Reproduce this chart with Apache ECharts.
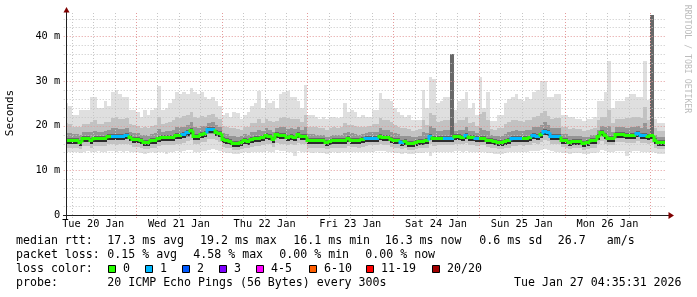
<!DOCTYPE html>
<html><head><meta charset="utf-8">
<script src="https://cdn.jsdelivr.net/npm/echarts@6/dist/echarts.min.js"></script>
<style>html,body{margin:0;padding:0;background:#fff}#c{width:697px;height:297px}</style>
</head><body><div id="c"></div>
<script>
// time in hours since Tue 20 Jan 00:00; one bucket per hour, first bucket at 04:00
const startHour = 4;
const viewStart = 4.592;   // Tue 20 Jan 04:35:31
const viewEnd = 172.592;   // Tue 27 Jan 04:35:31
const yMax = 45.24;

const dayLabels = ['Tue 20 Jan','Wed 21 Jan','Thu 22 Jan','Fri 23 Jan','Sat 24 Jan','Sun 25 Jan','Mon 26 Jan'];
const dayLabelHours = [12,36,60,84,108,132,156];
const yTicks = [0,10,20,30,40];
const yTickLabels = ['0','10 m','20 m','30 m','40 m'];
const yMajorGrid = [10,20,30,40];
const yMinorGrid = [2,4,6,8,12,14,16,18,22,24,26,28,32,34,36,38,42,44];
const xMajorGrid = [24,48,72,96,120,144,168];
const xMinorGrid = [6,12,18,30,36,42,54,60,66,78,84,90,102,108,114,126,132,138,150,156,162];

const lossLabels = ['0','1','2','3','4-5','6-10','11-19','20/20'];
const lossColors = ['#26ff00','#00b8ff','#0059ff','#7e00ff','#ff00ff','#ff5e00','#ff0000','#a00000'];

// ms, hourly
const rttMax = [25,24.5,22.5,22.5,23.5,23.5,23.5,26.5,26.5,24,
24,25.5,24.5,27.5,28,27,26.5,26.5,23.5,23.5,
23,22,23.5,22.5,23.5,24,29,23.5,24,25,
26,27.5,27,27.5,27,28.5,27.5,27,27.5,26.5,
26,26.5,25.5,24.5,22.5,22.8,22,23,22.8,21.5,
22.5,23,24.5,25,27.7,24,26,25,25.5,24,
27,27.5,27.7,26.5,26.5,25.5,24,29.2,22.5,22.5,
22,21.5,22,21.5,22,22,21.8,22,25,23,
23.5,23,22,22.3,22,22,23.5,23.5,27.3,26,
26,25.5,24,23,22.5,22,22.5,21.3,21.3,21.3,
28,24,31,30.5,25,25.5,26.5,26.5,36,23.5,
25.5,26,27.5,24,25,22.5,31,24,27.5,21,
21,22.5,22.5,25,26,26.5,27,26,25.5,26.5,
26,27.5,28,29.9,29.9,26.5,26.5,27,27.2,22.5,
22.5,22,22,21.5,21.5,21,21.5,21.5,22,25.5,
25.5,27.5,34.4,24,25.5,25.5,25.5,26.5,27,27,
26.5,26.5,34.4,25.8,44.8,21.5,20.5,20.5];
const rttHi2 = [20.5,20.3,19.7,19.7,19.7,20.3,20.3,20.9,21.2,20.4,
20.4,20.9,20.9,21.8,21.9,21.6,21.5,21.7,20.4,20.2,
20.0,19.5,19.7,19.4,20.0,20.2,21.9,20.4,20.6,20.9,
21.2,22.0,21.8,22.1,22.3,23.1,21.9,21.8,22.2,22.0,
22.4,22.7,21.9,21.4,19.9,19.8,19.4,19.4,19.3,19.1,
19.7,19.7,20.5,20.7,21.6,20.6,21.5,21.0,20.8,21.1,
21.8,22.0,21.8,21.6,21.4,21.6,20.9,22.3,19.7,19.7,
19.6,19.4,19.5,19.1,19.4,19.6,19.5,19.6,20.5,20.2,
20.1,19.9,19.6,19.8,19.8,19.9,20.4,20.4,21.8,21.3,
21.2,20.8,20.2,19.8,19.4,19.4,19.3,18.9,19.0,19.2,
21.2,20.2,22.9,22.5,20.8,21.0,21.3,21.3,36,20.6,
21.2,21.3,22.0,20.6,20.9,20.0,22.6,23.0,21.3,19.3,
19.1,19.4,19.4,20.3,20.8,21.2,21.3,21.1,20.9,21.3,
21.2,22.0,22.1,22.9,23.4,22.1,21.5,21.7,21.7,19.8,
19.7,19.3,19.4,19.3,19.3,18.8,19.1,19.3,19.5,21.2,
21.9,22.0,23.6,20.5,21.6,21.6,21.5,21.7,21.8,21.9,
22.0,21.7,24.1,21.3,44.8,19.4,18.8,18.8];
const rttHi3 = [18.4,18.3,18.1,18.1,17.9,18.6,18.6,18.6,18.9,18.6,
18.6,18.8,19.1,19.4,19.4,19.3,19.3,19.5,18.7,18.4,
18.3,17.9,17.9,17.7,18.2,18.3,19.2,18.7,18.8,18.9,
19.0,19.6,19.6,19.8,20.1,20.8,19.6,19.5,19.9,20.0,
20.6,20.8,20.1,19.6,18.3,18.1,17.8,17.6,17.5,17.6,
18.1,18.0,18.5,18.7,19.1,18.8,19.5,19.1,18.6,19.5,
19.6,19.7,19.3,19.4,19.2,19.7,19.1,19.6,18.1,18.1,
18.0,17.9,17.9,17.5,17.8,18.0,18.0,18.0,18.4,18.6,
18.3,18.2,18.0,18.2,18.4,18.5,18.6,18.6,19.5,19.1,
19.0,18.6,18.3,18.1,17.7,17.8,17.6,17.4,17.5,17.8,
18.6,18.3,19.9,19.5,18.8,18.9,19.0,19.0,36,18.9,
19.1,19.1,19.7,18.8,18.9,18.4,19.5,19.0,18.8,17.9,
17.6,17.7,17.7,18.1,18.5,18.9,19.0,18.9,18.8,19.0,
19.0,19.6,19.6,20.2,20.8,20.1,19.4,19.4,19.4,18.2,
18.1,17.7,17.8,17.8,17.8,17.4,17.5,17.9,17.9,19.1,
20.0,19.6,20.0,18.7,19.7,19.7,19.6,19.5,19.6,19.7,
19.9,19.5,20.5,19.2,44.8,18.0,17.4,17.4];
const rttMedian = [16.8,16.8,16.8,16.8,16.4,17.2,17.2,16.8,17.2,17.2,
17.2,17.2,17.7,17.6,17.6,17.6,17.6,17.9,17.4,17.0,
17.0,16.7,16.4,16.4,16.8,16.8,17.2,17.4,17.4,17.4,
17.4,17.9,17.9,18.1,18.5,19.1,17.8,17.8,18.2,18.4,
19.2,19.2,18.7,18.3,17.0,16.8,16.6,16.2,16.1,16.4,
16.8,16.6,17.0,17.2,17.2,17.4,17.9,17.6,17.0,18.2,
17.9,17.9,17.5,17.8,17.5,18.2,17.8,17.6,16.8,16.8,
16.8,16.8,16.7,16.3,16.5,16.8,16.8,16.8,16.8,17.3,
16.9,16.9,16.8,17.0,17.2,17.3,17.3,17.3,17.7,17.5,
17.4,17.0,16.8,16.7,16.4,16.5,16.2,16.2,16.3,16.6,
16.6,16.8,17.7,17.3,17.3,17.3,17.3,17.3,17.3,17.6,
17.6,17.5,17.9,17.4,17.4,17.2,17.3,17.3,16.9,16.8,
16.5,16.4,16.4,16.5,16.8,17.2,17.2,17.3,17.2,17.3,
17.4,17.9,17.8,18.2,18.9,18.5,17.7,17.7,17.6,16.9,
16.8,16.4,16.5,16.6,16.6,16.2,16.3,16.7,16.7,17.6,
18.6,17.9,17.3,17.3,18.2,18.2,18.1,17.9,17.9,18.0,
18.3,17.9,17.9,17.6,17.9,16.8,16.3,16.3];
const rttLo3 = [16.0,16.0,16.0,15.9,15.6,16.3,16.4,16.0,16.3,16.4,
16.4,16.3,16.8,16.8,16.7,16.8,16.7,17.0,16.6,16.2,
16.2,15.9,15.6,15.6,16.0,16.0,16.3,16.5,16.6,16.5,
16.6,17.0,17.0,17.2,17.5,17.9,16.9,16.9,17.3,17.4,
18.1,18.1,17.7,17.4,16.2,16.0,15.8,15.4,15.3,15.6,
16.0,15.8,16.2,16.4,16.3,16.5,17.0,16.7,16.2,17.2,
17.0,17.0,16.6,16.9,16.6,17.2,16.9,16.7,16.0,16.0,
16.0,16.0,15.9,15.5,15.7,16.0,16.0,16.0,16.0,16.4,
16.1,16.1,16.0,16.2,16.4,16.5,16.5,16.5,16.8,16.6,
16.5,16.2,16.0,15.9,15.6,15.7,15.4,15.4,15.5,15.8,
15.8,16.0,16.8,16.4,16.5,16.5,16.5,16.5,16.6,16.8,
16.8,16.7,17.0,16.6,16.6,16.4,16.5,16.5,16.1,16.0,
15.7,15.6,15.6,15.7,16.0,16.4,16.4,16.5,16.4,16.5,
16.6,17.0,16.9,17.3,17.9,17.6,16.9,16.9,16.8,16.1,
16.0,15.6,15.7,15.8,15.8,15.4,15.5,15.9,15.9,16.7,
17.6,17.0,16.5,16.5,17.3,17.3,17.2,17.0,17.0,17.1,
17.4,17.0,17.0,16.8,17.0,16.0,15.5,15.5];
const rttLo2 = [15.1,15.1,15.1,15.0,14.8,15.4,15.5,15.1,15.4,15.5,
15.5,15.4,15.8,15.8,15.7,15.8,15.8,16.0,15.6,15.3,
15.3,15.0,14.8,14.8,15.1,15.1,15.4,15.6,15.6,15.6,
15.6,16.0,16.0,16.2,16.5,16.8,15.9,15.9,16.3,16.4,
17.0,17.1,16.7,16.4,15.3,15.1,14.9,14.6,14.5,14.8,
15.1,15.0,15.3,15.5,15.4,15.6,16.0,15.8,15.3,16.2,
16.0,16.0,15.7,16.0,15.7,16.2,15.9,15.8,15.1,15.1,
15.1,15.1,15.0,14.7,14.9,15.1,15.1,15.1,15.1,15.5,
15.2,15.2,15.1,15.3,15.5,15.6,15.6,15.6,15.9,15.7,
15.6,15.3,15.1,15.0,14.8,14.9,14.6,14.6,14.7,15.0,
15.0,15.1,15.8,15.5,15.6,15.6,15.6,15.6,15.7,15.9,
15.9,15.8,16.1,15.7,15.7,15.5,15.6,15.6,15.2,15.1,
14.9,14.8,14.8,14.9,15.1,15.5,15.5,15.6,15.5,15.6,
15.7,16.1,16.0,16.4,16.9,16.6,16.0,16.0,15.9,15.2,
15.1,14.8,14.9,15.0,15.0,14.6,14.7,15.1,15.1,15.8,
16.6,16.0,15.6,15.6,16.4,16.4,16.3,16.1,16.1,16.2,
16.5,16.1,16.1,15.9,16.1,15.1,14.7,14.7];
const rttMin = [14.2,14.2,14.0,14.1,13.9,14.2,14.3,14.0,14.2,14.3,
14.2,14.1,14.4,14.3,14.2,14.3,14.2,14.4,14.2,14.0,
14.0,13.9,13.7,13.8,14.0,13.9,14.1,14.2,13.7,14.2,
14.0,14.3,14.2,14.4,14.5,14.6,14.2,14.1,14.4,14.4,
14.6,14.7,14.5,14.3,14.0,13.8,13.9,13.7,13.6,13.8,
14.0,13.9,14.1,14.2,14.0,14.2,14.4,14.2,14.0,14.5,
14.3,14.4,14.1,14.2,13.2,14.4,14.2,14.1,14.0,13.9,
14.0,13.9,13.9,13.7,13.8,14.0,13.9,14.0,14.0,14.2,
14.1,14.0,14.0,14.1,14.2,14.2,14.2,14.3,14.4,14.3,
14.2,14.0,13.9,13.9,13.7,13.8,13.6,13.6,13.8,13.9,
13.9,14.0,13.3,14.1,14.2,14.2,14.1,14.2,14.2,14.3,
14.3,14.2,14.4,14.2,14.1,14.0,14.1,14.1,13.9,13.8,
13.7,13.6,13.7,13.8,14.0,14.2,14.1,14.2,14.2,14.2,
14.3,14.4,14.4,14.5,14.7,14.6,14.3,14.2,14.2,13.9,
13.8,13.7,13.8,13.8,13.8,13.6,13.7,13.9,13.9,14.2,
14.5,14.3,14.1,14.0,14.4,14.4,14.3,13.3,14.2,14.3,
14.4,14.2,14.2,14.1,14.2,13.9,13.6,13.6];
// pings lost per hour (index into lossColors)
const lossCount = [0,0,0,0,0,0,0,0,0,0, 0,0,0,1,1,1,1,1,0,0,
0,0,0,0,0,0,0,0,0,0, 0,0,0,1,1,0,0,0,0,0,
1,1,0,0,0,0,0,0,0,0, 0,0,0,0,0,0,0,0,0,0,
0,0,0,0,0,0,0,0,0,0, 0,0,0,0,0,0,0,0,0,0,
0,0,0,0,1,1,1,1,0,0, 0,0,0,0,1,0,0,0,0,0,
0,0,1,0,0,0,1,1,1,0, 0,0,1,0,0,1,0,0,0,0,
0,0,0,0,0,1,1,1,0,0, 0,1,1,0,1,1,1,1,1,0,
0,0,0,0,0,0,0,0,0,0, 0,0,0,0,0,0,0,0,0,0,
1,1,1,0,0,0,0,0];

const legendRows = [
  [['median rtt:',16],['17.3 ms avg',107.3],['19.2 ms max',200],['16.1 ms min',293.3],['16.3 ms now',384.7],['0.6 ms sd',479.3],['26.7',557.7],['am/s',606.7]],
  [['packet loss:',16],['0.15 % avg',107.3],['4.58 % max',193.3],['0.00 % min',279.3],['0.00 % now',365.3]],
  [['loss color:',16]],
  [['probe:',16],['20 ICMP Echo Pings (56 Bytes) every 300s',107.3],['Tue Jan 27 04:35:31 2026',514]]
];
const legendRowY = [241.3,255,268.8,282.6];
const lossBoxX = [108.5,145.5,182.5,219.5,256.5,309.5,366.5,432.5];

const MONO = '"DejaVu Sans Mono", monospace';

const smokeData = rttMedian.map((m,i)=>[startHour+i, rttMin[i], rttLo2[i], rttLo3[i], m, rttHi3[i], rttHi2[i], rttMax[i]]);
const medianData = rttMedian.map((m,i)=>[startHour+i, m, i>0?rttMedian[i-1]:m, lossCount[i]]);
const gridData = [];
yMinorGrid.forEach(v=>gridData.push([0,v,0]));
yMajorGrid.forEach(v=>gridData.push([0,v,1]));
xMinorGrid.forEach(v=>gridData.push([1,v,0]));
xMajorGrid.forEach(v=>gridData.push([1,v,1]));

const chart = echarts.init(document.getElementById('c'), null, {renderer:'canvas'});

function smokeItem(params, api){
  const t = api.value(0);
  const xa = Math.round(api.coord([t,0])[0]);
  const xb = Math.round(api.coord([t+1,0])[0]);
  const py = v => Math.round(api.coord([t,v])[1]);
  const band = (lo,hi,color)=>({type:'rect', shape:{x:xa, y:py(hi), width:xb-xa, height:py(lo)-py(hi)}, style:{fill:color}});
  const ym = py(api.value(4));
  const saturated = api.value(5) >= api.value(7);  // every ping band reaches the top
  return {type:'group', children:[
    band(api.value(1), api.value(7), '#dfdfdf'),
    band(api.value(2), api.value(6), '#c2c2c2'),
    band(api.value(3), api.value(5), saturated ? '#686868' : '#959595'),
    {type:'rect', shape:{x:xa, y:ym-2, width:xb-xa, height:3}, style:{fill:'#666666'}},
    {type:'rect', shape:{x:xa, y:ym+1, width:xb-xa, height:3}, style:{fill:'#2c2c2c'}}
  ]};
}
function gridItem(params, api){
  const cs = params.coordSys;
  const orient = api.value(0), v = api.value(1), major = api.value(2);
  const stroke = major ? '#e39a9a' : '#c6c6c6';
  let shape;
  if (orient === 0){
    const y = Math.round(api.coord([viewStart, v])[1]) + 0.5;
    shape = {x1: cs.x - 3, y1: y, x2: cs.x + cs.width, y2: y};
  } else {
    const x = Math.round(api.coord([v, 0])[0]) + 0.5;
    shape = {x1: x, y1: cs.y, x2: x, y2: cs.y + cs.height + 3};
  }
  return {type:'line', shape, style:{stroke, lineWidth:1, lineDash:[1,2]}};
}
function medianItem(params, api){
  const t = api.value(0), m = api.value(1), p = api.value(2), loss = api.value(3);
  const xa = Math.round(api.coord([t,m])[0]);
  const xb = Math.round(api.coord([t+1,m])[0]);
  const ym = Math.round(api.coord([t,m])[1]) + 0.5;
  const yp = Math.round(api.coord([t,p])[1]) + 0.5;
  return {type:'polyline', shape:{points:[[xa,yp],[xa,ym],[xb,ym]]},
    style:{stroke: lossColors[loss], lineWidth:3, fill:null, lineJoin:'miter', lineCap:'butt'}};
}

const graphics = [];
legendRows.forEach((row,r)=>row.forEach(([txt,x])=>graphics.push({type:'text', x, y:legendRowY[r], z:10,
  style:{text:txt, fill:'#000', font:'11.6px '+MONO, align:'left', verticalAlign:'middle'}})));
lossLabels.forEach((lab,k)=>{
  graphics.push({type:'rect', z:10, shape:{x:lossBoxX[k], y:265.5, width:7, height:7}, style:{fill:lossColors[k], stroke:'#000', lineWidth:1}});
  graphics.push({type:'text', z:10, x:lossBoxX[k]+14.6, y:legendRowY[2], style:{text:lab, fill:'#000', font:'11.6px '+MONO, align:'left', verticalAlign:'middle'}});
});
graphics.push({type:'text', z:10, x:10.5, y:113, rotation:Math.PI/2, style:{text:'Seconds', fill:'#000', font:'11px '+MONO, align:'center', verticalAlign:'middle'}});
graphics.push({type:'text', z:10, x:687, y:59, rotation:-Math.PI/2, style:{text:'RRDTOOL / TOBI OETIKER', fill:'#bcbcbc', font:'8.2px '+MONO, align:'center', verticalAlign:'middle'}});
// axis lines and arrow heads
graphics.push({type:'line', z:10, shape:{x1:63, y1:215.5, x2:669, y2:215.5}, style:{stroke:'#202020', lineWidth:1}});
graphics.push({type:'line', z:10, shape:{x1:66.5, y1:219, x2:66.5, y2:11}, style:{stroke:'#202020', lineWidth:1}});
graphics.push({type:'polygon', z:11, shape:{points:[[668.5,212],[674,215.5],[668.5,219]]}, style:{fill:'#7f0000'}});
graphics.push({type:'polygon', z:11, shape:{points:[[63.5,12.5],[66.5,7],[69.5,12.5]]}, style:{fill:'#7f0000'}});

chart.setOption({
  animation:false,
  backgroundColor:'#ffffff',
  grid:{left:66.7, right:30.3, top:13, bottom:82, containLabel:false},
  xAxis:{type:'value', min:viewStart, max:viewEnd,
    axisLine:{show:false}, axisTick:{show:false}, splitLine:{show:false},
    axisLabel:{customValues:dayLabelHours, margin:4, color:'#000', fontSize:10.3, fontFamily:MONO, hideOverlap:false,
      formatter:v=>{const k=dayLabelHours.indexOf(Math.round(v)); return k>=0?dayLabels[k]:'';}}},
  yAxis:{type:'value', min:0, max:yMax,
    axisLine:{show:false}, axisTick:{show:false}, splitLine:{show:false},
    axisLabel:{customValues:yTicks, margin:6.5, color:'#000', fontSize:10.3, fontFamily:MONO,
      formatter:v=>{const k=yTicks.indexOf(Math.round(v)); return k>=0?yTickLabels[k]:'';}}},
  series:[
    {type:'custom', name:'smoke', z:2, clip:true, renderItem:smokeItem, data:smokeData, encode:{x:0, y:[1,7]}, silent:true},
    {type:'custom', name:'grid', z:3, clip:false, renderItem:gridItem, data:gridData, silent:true},
    {type:'custom', name:'median', z:4, clip:true, renderItem:medianItem, data:medianData, encode:{x:0, y:1}, silent:true}
  ],
  graphic:graphics
});
</script></body></html>
